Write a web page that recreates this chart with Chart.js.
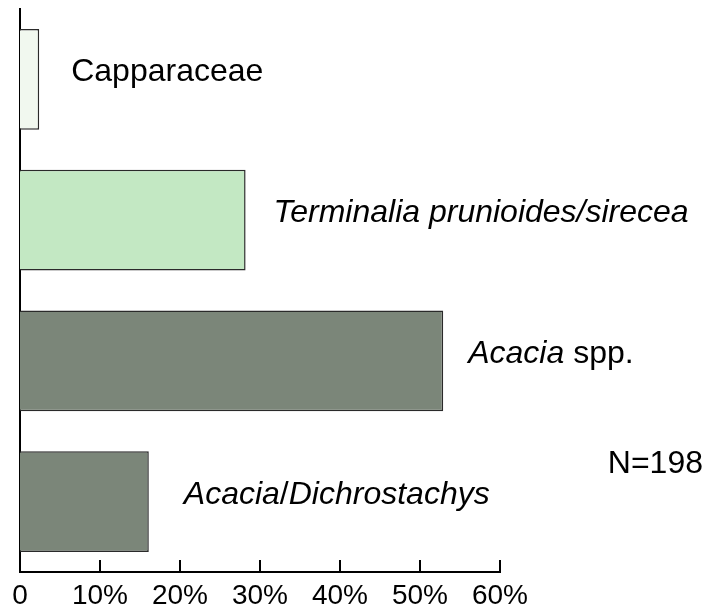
<!DOCTYPE html>
<html>
<head>
<meta charset="utf-8">
<script src="https://cdn.jsdelivr.net/npm/chart.js@4/dist/chart.umd.min.js"></script>
<style>
  html, body { margin: 0; padding: 0; background: #ffffff; }
  #wrap { width: 706px; height: 610px; }
</style>
</head>
<body>
<div id="wrap"><canvas id="chart" width="706" height="610"></canvas></div>
<script>
// Share of browsed plants by group (%)
const categories = ['Capparaceae', 'Terminalia prunioides/sirecea', 'Acacia spp.', 'Acacia/Dichrostachys'];
const shares = [2.4, 28.2, 52.9, 16.1];
const tickStep = 10;
const axisMax = 60;
const sampleNote = 'N=198';

// Styled runs for each bar label (italic genus names)
const labelRuns = [
  [{ text: 'Capparaceae', italic: false }],
  [{ text: 'Terminalia prunioides/sirecea', italic: true }],
  [{ text: 'Acacia', italic: true }, { text: ' spp.', italic: false }],
  [{ text: 'Acacia', italic: true }, { text: '/', italic: false }, { text: 'Dichrostachys', italic: true }]
];

const barFill = ['#f1f8ef', '#c3e8c3', '#7b8679', '#7b8679'];
const labelGap = [32, 28, 25, 35];
const FONT = '"Liberation Sans", Arial, sans-serif';

const barLabels = {
  id: 'barLabels',
  afterDatasetsDraw(chart) {
    const ctx = chart.ctx;
    const xs = chart.scales.x, ys = chart.scales.y;
    ctx.save();
    ctx.fillStyle = '#000';
    ctx.textBaseline = 'alphabetic';
    ctx.textAlign = 'left';
    shares.forEach((v, i) => {
      let x = xs.getPixelForValue(v) + labelGap[i];
      const y = ys.getPixelForValue(i) + 2;
      labelRuns[i].forEach(run => {
        ctx.font = (run.italic ? 'italic ' : '') + '32px ' + FONT;
        ctx.fillText(run.text, x, y);
        x += ctx.measureText(run.text).width;
      });
    });
    ctx.font = '32px ' + FONT;
    ctx.textAlign = 'right';
    ctx.fillText(sampleNote, chart.width - 3, ys.getPixelForValue(3) - 29);
    ctx.restore();
  }
};

// Short tick marks pointing up from the x axis
const innerTicks = {
  id: 'innerTicks',
  afterDraw(chart) {
    const ctx = chart.ctx;
    const xs = chart.scales.x;
    const bottom = chart.chartArea.bottom;
    ctx.save();
    ctx.strokeStyle = '#000';
    ctx.lineWidth = 2;
    xs.ticks.forEach(t => {
      const px = Math.round(xs.getPixelForValue(t.value));
      ctx.beginPath();
      ctx.moveTo(px, bottom);
      ctx.lineTo(px, bottom - 12);
      ctx.stroke();
    });
    ctx.restore();
  }
};

new Chart(document.getElementById('chart'), {
  type: 'bar',
  data: {
    labels: categories,
    datasets: [{
      data: shares,
      backgroundColor: barFill,
      borderColor: '#2a2a2a',
      borderWidth: 1.5,
      barPercentage: 0.715,
      categoryPercentage: 1.0
    }]
  },
  options: {
    indexAxis: 'y',
    responsive: false,
    animation: false,
    layout: { padding: { left: 20, right: 206, top: 9, bottom: 0 } },
    plugins: { legend: { display: false }, tooltip: { enabled: false } },
    scales: {
      x: {
        min: 0,
        max: axisMax,
        grid: { display: false },
        border: { display: true, color: '#000', width: 2 },
        afterFit(scale) { scale.height = 38; scale.paddingLeft = 0; scale.paddingRight = 0; },
        ticks: {
          stepSize: tickStep,
          color: '#000',
          padding: 2,
          font: { family: '"Liberation Sans", Arial, sans-serif', size: 28, lineHeight: 1.0 },
          callback: v => (v === 0 ? '0' : v + '%')
        }
      },
      y: {
        grid: { display: false },
        border: { display: true, color: '#000', width: 2 },
        afterFit(scale) { scale.width = 0; },
        ticks: { display: false }
      }
    }
  },
  plugins: [barLabels, innerTicks]
});
</script>
</body>
</html>
